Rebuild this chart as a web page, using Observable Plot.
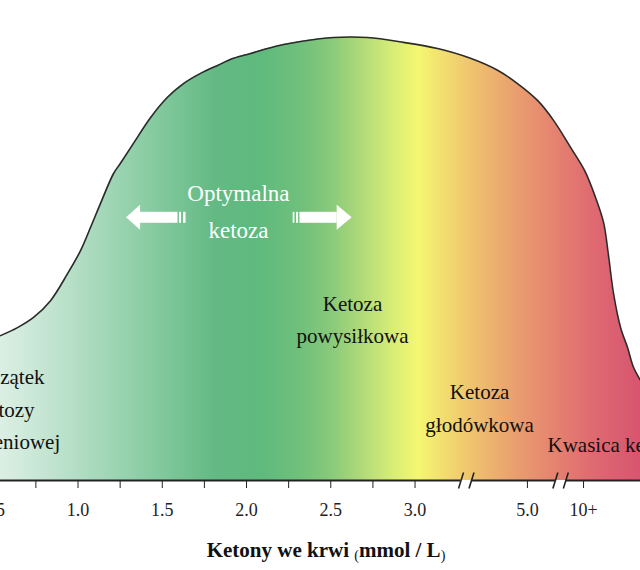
<!DOCTYPE html>
<html>
<head>
<meta charset="utf-8">
<script src="https://cdn.jsdelivr.net/npm/d3@7"></script>
<script src="https://cdn.jsdelivr.net/npm/@observablehq/plot@0.6"></script>
<style>
  body { margin: 0; background: #fff; }
  #chart svg { display: block; }
</style>
</head>
<body>
<div id="chart"></div>
<script>
// Curve: position along the (broken) ketone axis and relative height of the curve
const curveX = [0.540, 0.641, 0.736, 0.837, 0.938, 1.015, 1.074, 1.133, 1.211, 1.252, 1.329, 1.430, 1.531, 1.626, 1.727, 1.828, 1.923, 2.024, 2.125, 2.220, 2.320, 2.516, 2.718, 2.932, 3.134, 3.329, 3.490, 3.608, 3.727, 3.822, 3.923, 4.006, 4.071, 4.119, 4.148, 4.178, 4.220, 4.261, 4.297, 4.338];
const curveY = [32.7, 34.5, 36.8, 40.6, 46.7, 51.9, 57.1, 62.5, 69.3, 71.6, 76.1, 81.9, 86.5, 89.6, 91.9, 93.7, 95.3, 96.4, 97.5, 98.4, 99.1, 100, 100, 98.9, 97.5, 95.3, 92.6, 89.6, 85.8, 81.3, 75.2, 70.0, 63.9, 58.2, 50.8, 42.2, 34.5, 30.0, 25.5, 22.6];

// Axis ticks (positions on the broken axis) and their labels
const tickPos = [0.5, 0.75, 1.0, 1.25, 1.5, 1.75, 2.0, 2.25, 2.5, 2.75, 3.0, 3.667, 4.0];
const tickLabels = ["0.5", "", "1.0", "", "1.5", "", "2.0", "", "2.5", "", "3.0", "5.0", "10+"];
const breakCenters = [3.304, 3.864];

// Zone labels
const zoneText = ["Początek\nketozy\nżywieniowej", "Ketoza\npowysiłkowa", "Ketoza\ngłodówkowa", "Kwasica ketonowa"];
const zoneX = [0.576, 2.629, 3.383, 3.786];
const zoneY = [16.7, 37.0, 17.0, 7.9];
const zoneAnchor = ["middle", "middle", "middle", "start"];

const optimalText = "Optymalna\nketoza";
const optimalX = 1.952;
const optimalY = 61.5;

// Optimal-ketosis arrows: tip, head base, shaft end, bar positions
const arrowY = 59.3;
const arrowTips = [1.288, 2.627];
const arrowHeadBases = [1.371, 2.538];
const arrowShaftEnds = [1.593, 2.317];
const arrowBars = [[1.602, 1.614], [1.626, 1.641], [2.277, 2.287], [2.297, 2.309]];

const axisLabelMain = "Ketony we krwi";
const axisLabelUnit = "mmol / L";

// ---- build tables ----
const SERIF = "'Liberation Serif', 'Times New Roman', serif";
const curve = curveX.map((x, i) => ({x, y: curveY[i]}));
const zones = zoneText.map((t, i) => ({t, x: zoneX[i], y: zoneY[i], a: zoneAnchor[i]}));
const labelMap = new Map(tickPos.map((p, i) => [p, tickLabels[i]]));

const headHalf = 2.82, shaftHalf = 1.24;
const heads = arrowTips.map((tip, i) => [
  {x: tip, lo: arrowY, hi: arrowY},
  {x: arrowHeadBases[i], lo: arrowY - headHalf, hi: arrowY + headHalf}
]);
const shaftRects = arrowHeadBases.map((b, i) => ({x1: b, x2: arrowShaftEnds[i]}))
  .concat(arrowBars.map(([a, b]) => ({x1: a, x2: b})));

const gap = 0.031, slant = 0.0148, slashH = 1.8;
const slashes = breakCenters.flatMap(c => [c - gap, c + gap]).map(s => ({x1: s - slant, y1: -slashH, x2: s + slant, y2: slashH}));
const domain = [0.54, 4.338];
const segEdges = [domain[0], ...breakCenters.flatMap(c => [c - gap, c + gap]), domain[1]];
const axisSegs = [];
for (let i = 0; i < segEdges.length; i += 2) axisSegs.push({x1: segEdges[i], x2: segEdges[i + 1]});

const stops = [
  [0, "#dcefe4"], [50, "#c2e4d0"], [100, "#a5d8ba"], [160, "#82c99d"], [215, "#63b983"],
  [260, "#5fba7d"], [300, "#6fc07b"], [330, "#88c97a"], [360, "#aed97a"], [390, "#d4ec76"],
  [418, "#f5f772"], [445, "#f2dc70"], [475, "#eec06e"], [520, "#e99b6f"], [560, "#e47f70"],
  [600, "#de6671"], [640, "#d8556f"]
];

const defs = () => {
  const g = d3.create("svg:defs");
  const lg = g.append("linearGradient").attr("id", "ketoGrad")
    .attr("gradientUnits", "userSpaceOnUse").attr("x1", 0).attr("x2", 640).attr("y1", 0).attr("y2", 0);
  stops.forEach(([o, c]) => lg.append("stop").attr("offset", o / 640).attr("stop-color", c));
  return g.node();
};

const plot = Plot.plot({
  width: 640,
  height: 570,
  marginLeft: 0,
  marginRight: 0,
  marginTop: 37,
  marginBottom: 90,
  style: {fontFamily: SERIF, background: "#fff", overflow: "hidden"},
  x: {domain, axis: null},
  y: {domain: [0, 100], axis: null},
  marks: [
    defs,
    Plot.areaY(curve, {x: "x", y: "y", fill: "url(#ketoGrad)", curve: "catmull-rom"}),
    Plot.line(curve, {x: "x", y: "y", stroke: "#2b2b2b", strokeWidth: 1.6, curve: "catmull-rom"}),
    ...heads.map(h => Plot.areaY(h, {x: "x", y1: "lo", y2: "hi", fill: "white"})),
    Plot.rect(shaftRects, {x1: "x1", x2: "x2", y1: arrowY - shaftHalf, y2: arrowY + shaftHalf, fill: "white"}),
    Plot.text([optimalText], {x: optimalX, y: optimalY, text: d => d, fill: "white", fontSize: 23, lineHeight: 1.6, fontFamily: SERIF}),
    Plot.text(zones, {x: "x", y: "y", text: "t", textAnchor: "start", filter: d => d.a === "start", fontSize: 21, fill: "#111", fontFamily: SERIF}),
    Plot.text(zones, {x: "x", y: "y", text: "t", filter: d => d.a === "middle", fontSize: 21, fill: "#111", lineHeight: 1.55, fontFamily: SERIF}),
    Plot.ruleY(axisSegs, {x1: "x1", x2: "x2", y: 0, stroke: "#222", strokeWidth: 2}),
    Plot.link(slashes, {x1: "x1", y1: "y1", x2: "x2", y2: "y2", stroke: "#222", strokeWidth: 1.6}),
    Plot.axisX(tickPos, {tickSize: 8, tickPadding: 15, tickFormat: d => labelMap.get(d), fontSize: 18, fontFamily: SERIF, label: null, color: "#222"})
  ]
});

const svg = d3.select(plot);
const t = svg.append("text")
  .attr("x", 326).attr("y", 557)
  .attr("text-anchor", "middle")
  .attr("font-family", SERIF)
  .attr("fill", "#111");
t.append("tspan").attr("font-weight", "bold").attr("font-size", 21).text(axisLabelMain + " ");
t.append("tspan").attr("font-size", 14).attr("dy", 3).text("(");
t.append("tspan").attr("font-weight", "bold").attr("font-size", 21).attr("dy", -3).text(axisLabelUnit);
t.append("tspan").attr("font-size", 14).attr("dy", 3).text(")");

document.getElementById("chart").appendChild(plot);
</script>
</body>
</html>
